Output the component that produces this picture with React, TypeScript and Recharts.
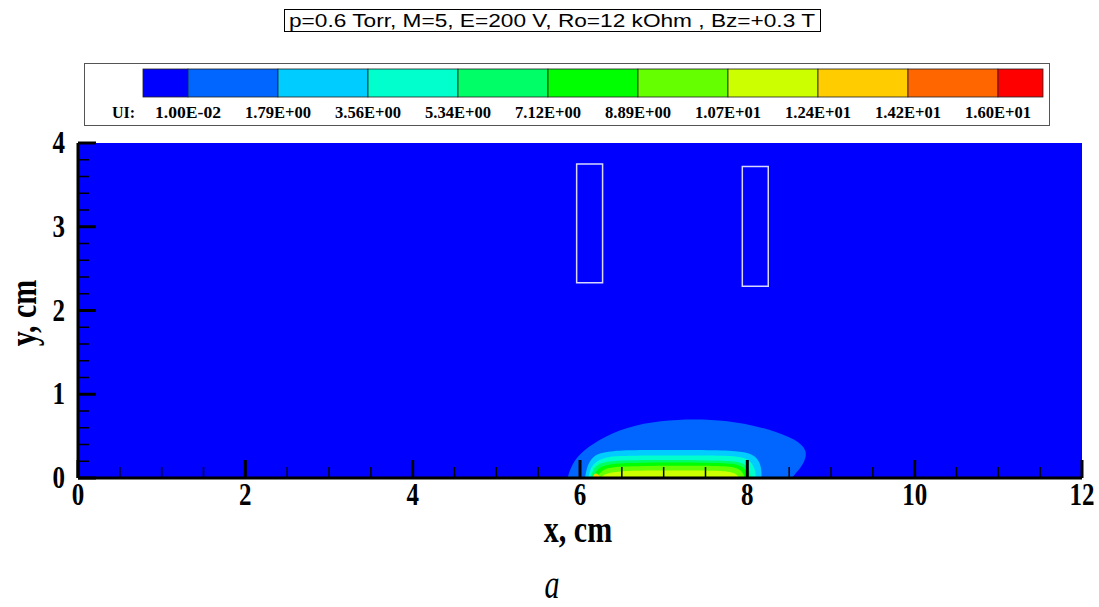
import { ComposedChart, Area, XAxis, YAxis, CartesianGrid, ReferenceArea } from "recharts";

// colour map bands (Tecplot rainbow) and level labels
const legendColors = ["#0000ff", "#0066ff", "#00ccff", "#00ffcc", "#00ff66", "#00ff00", "#66ff00", "#ccff00", "#ffcc00", "#ff6600", "#ff0000"];
const legendLevels = ["1.00E-02", "1.79E+00", "3.56E+00", "5.34E+00", "7.12E+00", "8.89E+00", "1.07E+01", "1.24E+01", "1.42E+01", "1.60E+01"];

const xTicks = [0, 0.5, 1, 1.5, 2, 2.5, 3, 3.5, 4, 4.5, 5, 5.5, 6, 6.5, 7, 7.5, 8, 8.5, 9, 9.5, 10, 10.5, 11, 11.5, 12];
const xMajor = [0, 2, 4, 6, 8, 10, 12];
const yTicks = [0, 0.2, 0.4, 0.6, 0.8, 1, 1.2, 1.4, 1.6, 1.8, 2, 2.2, 2.4, 2.6, 2.8, 3, 3.2, 3.4, 3.6, 3.8, 4];
const yMajor = [0, 1, 2, 3, 4];

// contour boundaries in cm, each one closed against y = 0
const level2 = [
  { x: 5.85, y: 0 }, { x: 5.92, y: 0.21 }, { x: 6.09, y: 0.37 }, { x: 6.37, y: 0.54 }, { x: 6.76, y: 0.66 },
  { x: 7.17, y: 0.7 }, { x: 7.56, y: 0.7 }, { x: 7.96, y: 0.66 }, { x: 8.36, y: 0.55 }, { x: 8.64, y: 0.43 },
  { x: 8.72, y: 0.3 }, { x: 8.67, y: 0.16 }, { x: 8.55, y: 0.02 }, { x: 8.52, y: 0 },
];
const level3 = [
  { x: 6.06, y: 0 }, { x: 6.08, y: 0.12 }, { x: 6.12, y: 0.21 }, { x: 6.2, y: 0.29 }, { x: 6.37, y: 0.325 },
  { x: 6.72, y: 0.335 }, { x: 7.44, y: 0.335 }, { x: 7.86, y: 0.325 }, { x: 8.02, y: 0.3 }, { x: 8.12, y: 0.24 },
  { x: 8.17, y: 0.13 }, { x: 8.17, y: 0 },
];
const level4 = [
  { x: 6.1, y: 0 }, { x: 6.12, y: 0.1 }, { x: 6.17, y: 0.18 }, { x: 6.27, y: 0.24 }, { x: 6.45, y: 0.265 },
  { x: 6.9, y: 0.27 }, { x: 7.6, y: 0.27 }, { x: 7.88, y: 0.26 }, { x: 8.0, y: 0.23 }, { x: 8.07, y: 0.16 },
  { x: 8.1, y: 0.07 }, { x: 8.1, y: 0 },
];
const level5 = [
  { x: 6.13, y: 0 }, { x: 6.15, y: 0.09 }, { x: 6.2, y: 0.16 }, { x: 6.32, y: 0.2 }, { x: 6.55, y: 0.215 },
  { x: 7.5, y: 0.215 }, { x: 7.85, y: 0.205 }, { x: 7.97, y: 0.17 }, { x: 8.03, y: 0.1 }, { x: 8.04, y: 0 },
];
const level6 = [
  { x: 6.16, y: 0 }, { x: 6.19, y: 0.08 }, { x: 6.25, y: 0.14 }, { x: 6.4, y: 0.175 }, { x: 6.7, y: 0.185 },
  { x: 7.5, y: 0.185 }, { x: 7.85, y: 0.175 }, { x: 7.95, y: 0.13 }, { x: 8.0, y: 0.07 }, { x: 8.0, y: 0 },
];
const level7 = [
  { x: 6.2, y: 0 }, { x: 6.24, y: 0.07 }, { x: 6.32, y: 0.12 }, { x: 6.5, y: 0.145 }, { x: 7.5, y: 0.15 },
  { x: 7.82, y: 0.14 }, { x: 7.92, y: 0.1 }, { x: 7.96, y: 0.04 }, { x: 7.96, y: 0 },
];
const level8 = [
  { x: 6.24, y: 0 }, { x: 6.3, y: 0.05 }, { x: 6.45, y: 0.08 }, { x: 6.8, y: 0.09 }, { x: 7.5, y: 0.09 },
  { x: 7.8, y: 0.08 }, { x: 7.88, y: 0.04 }, { x: 7.9, y: 0 },
];
const level9 = [{ x: 6.15, y: 0 }, { x: 6.17, y: 0.06 }, { x: 6.22, y: 0.05 }, { x: 6.24, y: 0 }];

const contours = [
  { pts: level2, color: legendColors[1] },
  { pts: level3, color: legendColors[2] },
  { pts: level4, color: legendColors[3] },
  { pts: level5, color: legendColors[4] },
  { pts: level6, color: legendColors[5] },
  { pts: level7, color: legendColors[6] },
  { pts: level8, color: legendColors[7] },
  { pts: level9, color: legendColors[8] },
];

// electrode outlines (cm)
const electrodes = [
  { x1: 5.96, x2: 6.27, y1: 2.33, y2: 3.75 },
  { x1: 7.94, x2: 8.25, y1: 2.29, y2: 3.72 },
];

const serif = "'Liberation Serif', 'Times New Roman', serif";

function XTick(props: any) {
  const { x, y, payload } = props;
  const major = xMajor.includes(payload.value);
  return (
    <g>
      <line x1={x} x2={x} y1={y} y2={y - (major ? 18 : 11)} stroke="#000" strokeWidth={major ? 3 : 1.5} />
      {major && (
        <text transform={`translate(${x},${y + 27}) scale(1,1.25)`} textAnchor="middle" fontFamily={serif} fontWeight="bold" fontSize={25} fill="#000">
          {payload.value}
        </text>
      )}
    </g>
  );
}

function YTick(props: any) {
  const { x, y, payload } = props;
  const major = yMajor.includes(payload.value);
  return (
    <g>
      <line x1={x} x2={x + (major ? 18 : 11)} y1={y} y2={y} stroke="#000" strokeWidth={major ? 3 : 1.5} />
      {major && (
        <text transform={`translate(${x - 13},${y + 10}) scale(1,1.25)`} textAnchor="end" fontFamily={serif} fontWeight="bold" fontSize={25} fill="#000">
          {payload.value}
        </text>
      )}
    </g>
  );
}

export default function App() {
  const barX = 143;
  const bandW = 90;
  return (
    <div style={{ position: "absolute", left: 0, top: 0, width: 1099, height: 607, background: "#fff" }}>
      <ComposedChart width={1099} height={607} margin={{ top: 143, right: 17, bottom: 89, left: 38 }}>
        <CartesianGrid horizontal={false} vertical={false} fill="#0000ff" stroke="none" />
        {contours.map((c, i) => (
          <Area
            key={i}
            data={c.pts}
            dataKey="y"
            type="basis"
            fill={c.color}
            fillOpacity={1}
            stroke="none"
            dot={false}
            activeDot={false}
            isAnimationActive={false}
          />
        ))}
        {electrodes.map((e, i) => (
          <ReferenceArea key={i} x1={e.x1} x2={e.x2} y1={e.y1} y2={e.y2} fill="none" stroke="#d8d8ff" strokeWidth={1.5} fillOpacity={0} />
        ))}
        <XAxis
          dataKey="x"
          type="number"
          domain={[0, 12]}
          allowDataOverflow
          ticks={xTicks}
          interval={0}
          height={40}
          tickSize={0}
          tickMargin={0}
          tickLine={false}
          tick={XTick}
          axisLine={{ stroke: "#000", strokeWidth: 3 }}
        />
        <YAxis
          type="number"
          domain={[0, 4]}
          allowDataOverflow
          ticks={yTicks}
          interval={0}
          width={40}
          tickSize={0}
          tickMargin={0}
          tickLine={false}
          tick={YTick}
          axisLine={{ stroke: "#000", strokeWidth: 3 }}
        />
      </ComposedChart>

      <svg width={1099} height={607} style={{ position: "absolute", left: 0, top: 0, pointerEvents: "none" }}>
        <rect x={284.5} y={9.5} width={536} height={22} fill="#fff" stroke="#000" strokeWidth={1} />
        <text x={552} y={27} textAnchor="middle" fontFamily="'Liberation Sans', Arial, sans-serif" fontSize={18} textLength={526} lengthAdjust="spacingAndGlyphs">
          p=0.6 Torr, M=5, E=200 V, Ro=12 kOhm , Bz=+0.3 T
        </text>

        <rect x={84.5} y={63.5} width={965} height={62} fill="#fff" stroke="#555" strokeWidth={1} />
        {legendColors.map((c, i) => {
          const x0 = i === 0 ? barX : barX + bandW / 2 + (i - 1) * bandW;
          const w = i === 0 || i === legendColors.length - 1 ? bandW / 2 : bandW;
          return <rect key={c} x={x0} y={69} width={w} height={28} fill={c} stroke="#222" strokeWidth={0.8} />;
        })}
        <text x={112} y={118} fontFamily={serif} fontWeight="bold" fontSize={16} fill="#000">UI:</text>
        {legendLevels.map((l, i) => (
          <text key={l} x={barX + bandW / 2 + i * bandW} y={118} textAnchor="middle" fontFamily={serif} fontWeight="bold" fontSize={16} textLength={66} lengthAdjust="spacingAndGlyphs" fill="#000">
            {l}
          </text>
        ))}

        <text transform="translate(578,542) scale(1,1.25)" textAnchor="middle" fontFamily={serif} fontWeight="bold" fontSize={30} fill="#000">
          x, cm
        </text>
        <text transform="translate(36,313) rotate(-90) scale(1,1.25)" textAnchor="middle" fontFamily={serif} fontWeight="bold" fontSize={30} fill="#000">
          y, cm
        </text>
        <text transform="translate(552,598) scale(1,1.35)" textAnchor="middle" fontFamily={serif} fontStyle="italic" fontSize={30} fill="#000">
          a
        </text>
      </svg>
    </div>
  );
}
